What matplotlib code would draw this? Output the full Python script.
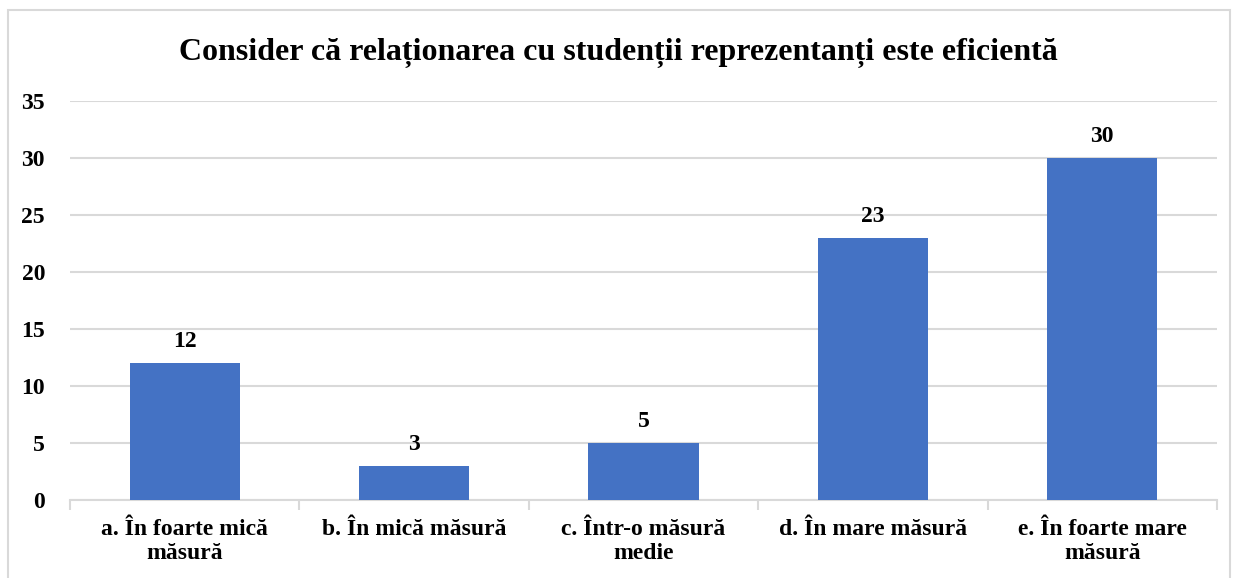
import numpy as np
import matplotlib
matplotlib.use("Agg")
import matplotlib.pyplot as plt
from matplotlib.patches import Rectangle

# ---------------------------------------------------------------------------
# Data
# ---------------------------------------------------------------------------

TITLE = "Consider că relaționarea cu studenții reprezentanți este eficientă"
CATEGORIES = [
    "a. În foarte mică\nmăsură",
    "b. În mică măsură",
    "c. Într-o măsură\nmedie",
    "d. În mare măsură",
    "e. În foarte mare\nmăsură",
]
VALUES = [12, 3, 5, 23, 30]
Y_TICKS = [0, 5, 10, 15, 20, 25, 30, 35]

BAR_COLOR = "#4472C4"
GRID_COLOR = "#d9d9d9"

plt.rcParams["font.family"] = ["Liberation Serif", "DejaVu Serif"]
plt.rcParams["font.weight"] = "bold"

fig = plt.figure(figsize=(12.37, 5.78), dpi=100)
ax = fig.add_axes([0.0566, 0.135, 0.9272, 0.690])

# chart border (bottom edge cropped in the reference)
fig.patches.append(Rectangle((8 / 1237, -0.05), 1222 / 1237, 1 - 10 / 578 + 0.05,
                             transform=fig.transFigure, fill=False,
                             edgecolor=GRID_COLOR, linewidth=1.5))

x = np.arange(len(CATEGORIES))
bars = ax.bar(x, VALUES, width=0.48, color=BAR_COLOR, zorder=3)

for xi, v in zip(x, VALUES):
    ax.annotate(f"{v}", (xi, v), xytext=(0, 8), textcoords="offset points",
                ha="center", va="bottom", fontsize=17, fontweight="bold")

ax.set_xlim(-0.5, len(CATEGORIES) - 0.5)
ax.set_ylim(0, 35)
ax.set_yticks(Y_TICKS)
ax.yaxis.grid(True, color=GRID_COLOR, linewidth=1.5, zorder=0)
ax.tick_params(axis="y", length=0, pad=18, labelsize=17)

ax.set_xticks(x)
ax.set_xticklabels(CATEGORIES, fontsize=17, fontweight="bold", linespacing=1.15)
ax.set_xticks(np.arange(-0.5, len(CATEGORIES)), minor=True)
ax.tick_params(axis="x", which="major", length=0, pad=14)
ax.tick_params(axis="x", which="minor", length=7, width=1.5, color=GRID_COLOR)

for side in ("top", "right", "left"):
    ax.spines[side].set_visible(False)
ax.spines["bottom"].set_color(GRID_COLOR)
ax.spines["bottom"].set_linewidth(1.5)

fig.text(0.5, 1 - 53 / 578, TITLE, ha="center", va="center",
         fontsize=23, fontweight="bold")

fig.savefig("out.png", dpi=100)
